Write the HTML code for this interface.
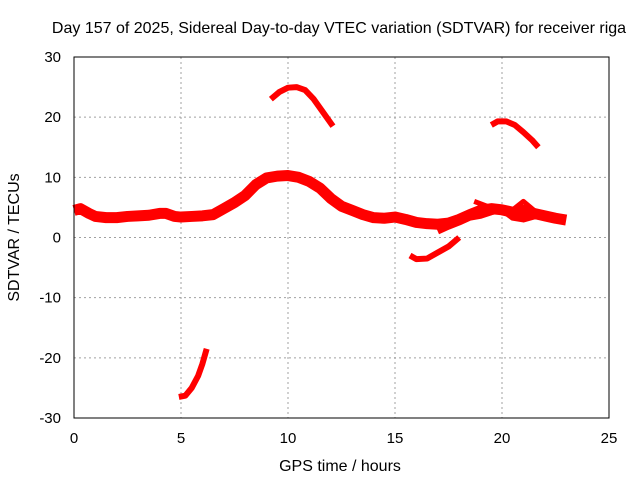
<!DOCTYPE html>
<html><head><meta charset="utf-8"><style>
body{margin:0;background:#fff}
svg{display:block;font-family:"Liberation Sans",sans-serif}
</style></head><body>
<svg id="chart" width="640" height="480">
<rect width="640" height="480" fill="#fff"/>
<text x="339" y="33" font-size="16" text-anchor="middle">Day 157 of 2025, Sidereal Day-to-day VTEC variation (SDTVAR) for receiver riga</text>
<text x="340" y="471" font-size="16" text-anchor="middle">GPS time / hours</text>
<text transform="translate(19,237.5) rotate(-90)" font-size="16" text-anchor="middle">SDTVAR / TECUs</text>
<g id="grid"></g><g id="series"></g>
<rect x="74" y="57" width="535" height="361" fill="none" stroke="#000"/>
</svg>
<script>
const xTicks=[0,5,10,15,20,25];
const yTicks=[-30,-20,-10,0,10,20,30];
const mainX=[0,0.3,0.7,1,1.5,2,2.5,3,3.5,4,4.3,4.7,5,5.5,6,6.5,7,7.5,8,8.5,9,9.5,10,10.5,11,11.5,12,12.5,13,13.5,14,14.5,15,15.5,16,16.5,17,17.5,18,18.5,19,19.5,20,20.5,21,21.5,22,22.5,23];
const mainY=[4.5,4.8,4,3.5,3.3,3.3,3.5,3.6,3.7,4,4,3.5,3.4,3.5,3.6,3.8,4.8,5.8,7,8.8,9.9,10.2,10.3,10,9.3,8.2,6.5,5.2,4.5,3.8,3.3,3.2,3.4,3,2.5,2.3,2.2,2.4,3,3.8,4.5,4.8,4.6,4.2,4.5,4,3.6,3.2,2.9];
const arc1X=[9.2,9.6,10,10.4,10.8,11.2,11.6,12.1];
const arc1Y=[23,24.2,24.9,25,24.5,23,21,18.5];
const arc2X=[4.9,5.2,5.5,5.8,6.0,6.2];
const arc2Y=[-26.5,-26.3,-25,-23,-21,-18.5];
const arc3X=[19.5,19.8,20.2,20.6,21,21.4,21.7];
const arc3Y=[18.7,19.3,19.3,18.7,17.5,16.2,15];
const arc4X=[15.7,16,16.5,17,17.5,18];
const arc4Y=[-3,-3.6,-3.5,-2.5,-1.5,0];
const sideX=[17,17.5,18,18.5,19,19.5,20,20.5,21,21.5,22];
const sideY=[1,1.8,2.5,3.3,3.6,4.2,4.6,3.3,3,3.5,3.4];
const side2X=[18.7,19.3,20,20.5,21,21.5];
const side2Y=[6,5.2,4.3,4.6,6,4.5];
const X=v=>74+v*535/25, Y=v=>237.5-v*361/60;
const NS='http://www.w3.org/2000/svg';
const grid=document.getElementById('grid'), ser=document.getElementById('series'), svg=document.getElementById('chart');
xTicks.forEach(t=>{
  if(t>0&&t<25){const l=document.createElementNS(NS,'line');
  
  
  l.setAttribute('x1',X(t));l.setAttribute('x2',X(t));l.setAttribute('y1',57);l.setAttribute('y2',418);
  l.setAttribute('stroke','#a0a0a0');l.setAttribute('stroke-dasharray','2,3');grid.appendChild(l);}
  const tx=document.createElementNS(NS,'text');
  
  
  tx.setAttribute('x',X(t));tx.setAttribute('y',443);tx.setAttribute('font-size','15');tx.setAttribute('text-anchor','middle');
  tx.textContent=t;svg.appendChild(tx);
});
yTicks.forEach(t=>{
  if(t>-30&&t<30){const l=document.createElementNS(NS,'line');
  
  
  l.setAttribute('x1',74);l.setAttribute('x2',609);l.setAttribute('y1',Y(t));l.setAttribute('y2',Y(t));
  l.setAttribute('stroke','#a0a0a0');l.setAttribute('stroke-dasharray','2,3');grid.appendChild(l);}
  const tx=document.createElementNS(NS,'text');
  
  
  tx.setAttribute('x',61);tx.setAttribute('y',Y(t)+5);tx.setAttribute('font-size','15');tx.setAttribute('text-anchor','end');
  tx.textContent=t;svg.appendChild(tx);
});
function line(xs,ys,w,name){
  const p=document.createElementNS(NS,'polyline');
  
  
  p.setAttribute('points',xs.map((x,i)=>X(x)+','+Y(ys[i])).join(' '));
  p.setAttribute('fill','none');p.setAttribute('stroke','#ff0000');p.setAttribute('stroke-width',w);
  p.setAttribute('stroke-linejoin','round');ser.appendChild(p);
}
line(mainX,mainY,11,'main-band');
line(sideX,sideY,6,'side-band');
line(side2X,side2Y,5,'side-band-upper');
line(arc1X,arc1Y,6,'arc-midday');
line(arc2X,arc2Y,6,'arc-morning');
line(arc3X,arc3Y,6,'arc-evening');
line(arc4X,arc4Y,6,'arc-afternoon');
</script>
</body></html>
